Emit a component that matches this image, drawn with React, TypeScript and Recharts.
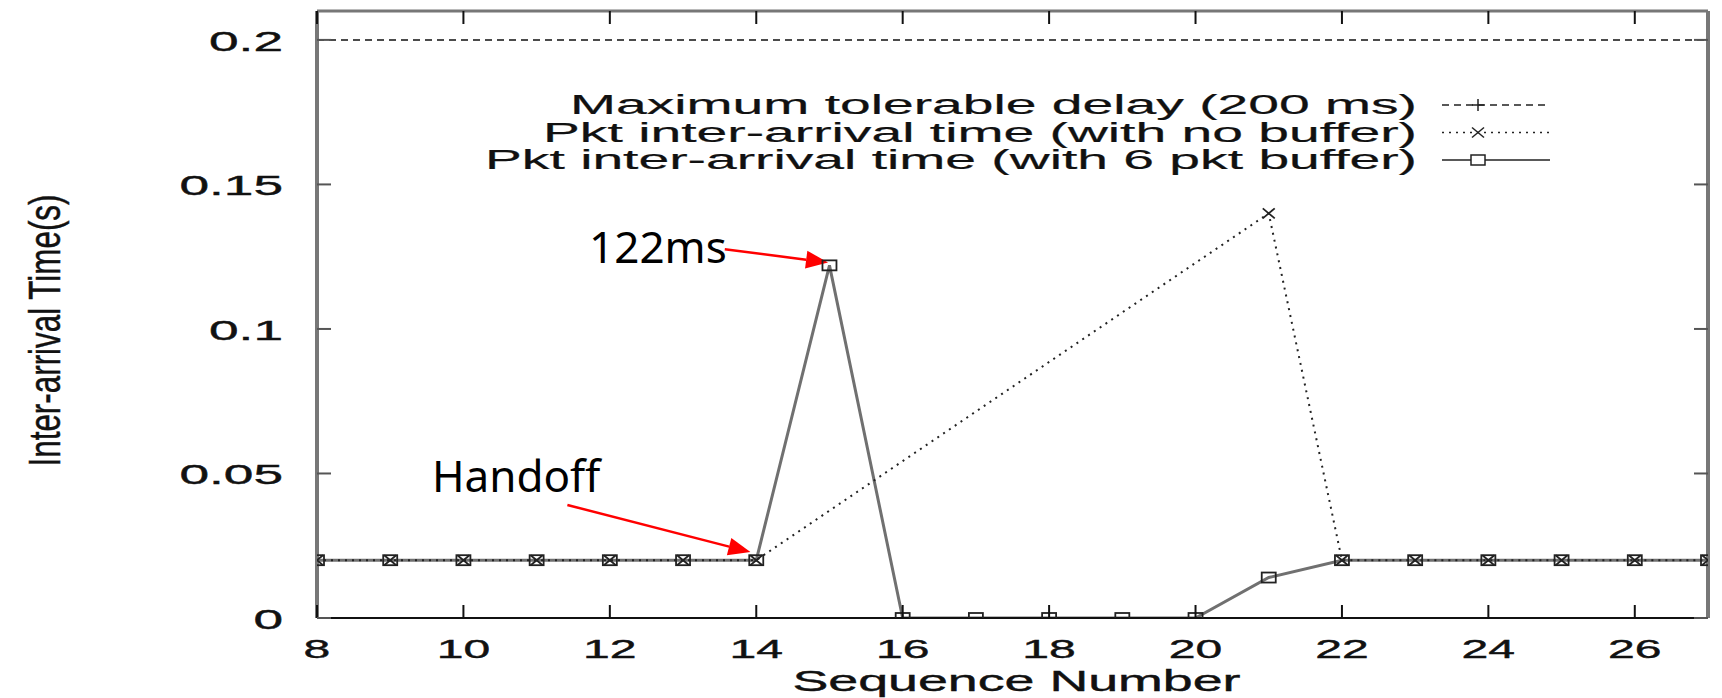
import React from 'react';
import { LineChart, Line, XAxis, YAxis, ReferenceLine, Legend } from 'recharts';

// sequence numbers on the x axis
const seqNumbers = [8, 9, 10, 11, 12, 13, 14, 15, 16, 17, 18, 19, 20, 21, 22, 23, 24, 25, 26, 27];
// maximum tolerable delay (200 ms)
const maxDelay = [0.2, 0.2, 0.2, 0.2, 0.2, 0.2, 0.2, 0.2, 0.2, 0.2, 0.2, 0.2, 0.2, 0.2, 0.2, 0.2, 0.2, 0.2, 0.2, 0.2];
// inter-arrival time with no buffer (packets 15..20 missing)
const noBuffer = [0.02, 0.02, 0.02, 0.02, 0.02, 0.02, 0.02, null, null, null, null, null, null, 0.14, 0.02, 0.02, 0.02, 0.02, 0.02, 0.02];
// inter-arrival time with 6 pkt buffer
const sixPktBuffer = [0.02, 0.02, 0.02, 0.02, 0.02, 0.02, 0.02, 0.122, 0, 0, 0, 0, 0, 0.014, 0.02, 0.02, 0.02, 0.02, 0.02, 0.02];

const xTicks = [8, 10, 12, 14, 16, 18, 20, 22, 24, 26];
const yTicks = [0, 0.05, 0.1, 0.15, 0.2];
const yTickLabels = ['0', '0.05', '0.1', '0.15', '0.2'];

const seriesNames = [
  'Maximum tolerable delay (200 ms)',
  'Pkt inter-arrival time (with no buffer)',
  'Pkt inter-arrival time (with 6 pkt buffer)',
];

// annotation arrows, in data units: [start, tip]
const peakArrow = [{ x: 13.57, y: 0.1276 }, { x: 14.98, y: 0.123 }];
const handoffArrow = [{ x: 11.42, y: 0.0391 }, { x: 13.92, y: 0.0228 }];

const rows = seqNumbers.map((seq, i) => ({
  seq,
  maxDelay: maxDelay[i],
  noBuffer: noBuffer[i],
  sixPktBuffer: sixPktBuffer[i],
}));

const FONT = '"Liberation Sans", Arial, sans-serif';

// the source figure is stretched sideways, so text is stretched with textLength
const GLYPH: Record<string, number> = { '.': 0.278 };
const stretched = (s: string, size: number, k: number) =>
  s.split('').reduce((acc, ch) => acc + (GLYPH[ch] ?? 0.556), 0) * size * k;

const BottomTick = (props: any) => {
  const { x, y, payload } = props;
  const label = String(payload.value);
  return (
    <g>
      <line x1={x} y1={y} x2={x} y2={y - 13} stroke="#111" strokeWidth={2} />
      <text x={x} y={y + 40} textAnchor="middle" fontSize={26} fontFamily={FONT} fill="#111"
        stroke="#111" strokeWidth={0.4}
        textLength={stretched(label, 26, 1.85)} lengthAdjust="spacingAndGlyphs">
        {label}
      </text>
    </g>
  );
};

const TopTick = (props: any) => {
  const { x, y } = props;
  return <line x1={x} y1={y} x2={x} y2={y + 13} stroke="#111" strokeWidth={2} />;
};

const LeftTick = (props: any) => {
  const { x, y, payload } = props;
  const idx = yTicks.indexOf(payload.value);
  const label = yTickLabels[idx] ?? String(payload.value);
  return (
    <g>
      <line x1={x} y1={y} x2={x + 14} y2={y} stroke="#555" strokeWidth={2} />
      <text x={x - 34} y={y + 11} textAnchor="end" fontSize={28} fontFamily={FONT} fill="#111"
        stroke="#111" strokeWidth={0.4}
        textLength={stretched(label, 28, 1.9)} lengthAdjust="spacingAndGlyphs">
        {label}
      </text>
    </g>
  );
};

const RightTick = (props: any) => {
  const { x, y } = props;
  return <line x1={x} y1={y} x2={x - 14} y2={y} stroke="#555" strokeWidth={2} />;
};

const SquareDot = (props: any) => {
  const { cx, cy, value, index } = props;
  if (value == null || cy == null) return <g key={index} />;
  return <rect key={index} x={cx - 7} y={cy - 5} width={14} height={10} fill="none" stroke="#222" strokeWidth={1.8} />;
};

const CrossDot = (props: any) => {
  const { cx, cy, value, index } = props;
  if (value == null || cy == null) return <g key={index} />;
  return (
    <g key={index} stroke="#222" strokeWidth={1.8}>
      <line x1={cx - 6} y1={cy - 5} x2={cx + 6} y2={cy + 5} />
      <line x1={cx - 6} y1={cy + 5} x2={cx + 6} y2={cy - 5} />
    </g>
  );
};

const arrowShape = (text: string, dx: number, dy: number) => (p: any) => {
  const { x1, y1, x2, y2 } = p;
  const ang = Math.atan2(y2 - y1, x2 - x1);
  const len = 22;
  const half = 9;
  const bx = x2 - len * Math.cos(ang);
  const by = y2 - len * Math.sin(ang);
  const pts = `${x2},${y2} ${bx - half * Math.sin(ang)},${by + half * Math.cos(ang)} ${bx + half * Math.sin(ang)},${by - half * Math.cos(ang)}`;
  return (
    <g>
      <line x1={x1} y1={y1} x2={bx} y2={by} stroke="#ff0000" strokeWidth={2.5} />
      <polygon points={pts} fill="#ff0000" />
      <text x={x1 + dx} y={y1 + dy} textAnchor="end" fontSize={44} fontFamily='"Noto Sans", sans-serif' fill="#000">
        {text}
      </text>
    </g>
  );
};

const legendRows = [
  { dash: '7 5', marker: 'plus', width: 847 },
  { dash: '2 5', marker: 'cross', width: 874 },
  { dash: undefined, marker: 'square', width: 932 },
];

const renderLegend = () => (
  <svg width={1120} height={110} style={{ overflow: 'visible' }}>
    {seriesNames.map((name, i) => {
      const row = legendRows[i];
      const cy = 25 + i * 27.5;
      const mx = 1028;
      return (
        <g key={name}>
          <text x={967} y={cy + 9} textAnchor="end" fontSize={27} fontFamily={FONT} fill="#111"
            stroke="#111" strokeWidth={0.2}
            textLength={row.width} lengthAdjust="spacingAndGlyphs">
            {name}
          </text>
          <line x1={992} y1={cy} x2={1100} y2={cy} stroke="#222" strokeWidth={1.5} strokeDasharray={row.dash} />
          {row.marker === 'plus' && (
            <g stroke="#222" strokeWidth={1.5}>
              <line x1={mx - 6} y1={cy} x2={mx + 6} y2={cy} />
              <line x1={mx} y1={cy - 6} x2={mx} y2={cy + 6} />
            </g>
          )}
          {row.marker === 'cross' && (
            <g stroke="#222" strokeWidth={1.5}>
              <line x1={mx - 6} y1={cy - 5} x2={mx + 6} y2={cy + 5} />
              <line x1={mx - 6} y1={cy + 5} x2={mx + 6} y2={cy - 5} />
            </g>
          )}
          {row.marker === 'square' && (
            <rect x={mx - 7} y={cy - 5} width={14} height={10} fill="#fff" stroke="#222" strokeWidth={1.5} />
          )}
        </g>
      );
    })}
  </svg>
);

export default function App() {
  return (
    <div style={{ position: 'absolute', left: 0, top: 0, width: 1722, height: 698, background: '#fff', fontFamily: FONT }}>
      <LineChart width={1722} height={698} data={rows} margin={{ top: 10, right: 13, bottom: 0, left: 0 }}>
        <XAxis
          dataKey="seq"
          type="number"
          domain={[8, 27]}
          allowDataOverflow
          ticks={xTicks}
          interval={0}
          height={80}
          tickSize={0}
          tickMargin={0}
          tickLine={false}
          tick={BottomTick}
          axisLine={{ stroke: '#111', strokeWidth: 2 }}
          label={{
            value: 'Sequence Number',
            content: (p: any) => (
              <text x={p.viewBox.x + p.viewBox.width / 2 + 4} y={p.viewBox.y + 73} textAnchor="middle"
                fontSize={30} fontFamily={FONT} fill="#111" stroke="#111" strokeWidth={0.4}
                textLength={448} lengthAdjust="spacingAndGlyphs">
                Sequence Number
              </text>
            ),
          }}
        />
        <XAxis
          xAxisId="top"
          orientation="top"
          dataKey="seq"
          type="number"
          domain={[8, 27]}
          allowDataOverflow
          ticks={xTicks}
          interval={0}
          height={1}
          tickSize={0}
          tickMargin={0}
          tickLine={false}
          tick={TopTick}
          axisLine={{ stroke: '#777', strokeWidth: 3 }}
        />
        <YAxis
          type="number"
          domain={[0, 0.21]}
          allowDataOverflow
          ticks={yTicks}
          interval={0}
          width={317}
          tickSize={0}
          tickMargin={0}
          tickLine={false}
          tick={LeftTick}
          axisLine={{ stroke: '#777', strokeWidth: 4 }}
          label={{
            value: 'Inter-arrival Time(s)',
            content: (p: any) => {
              const x = p.viewBox.x + 60;
              const y = p.viewBox.y + p.viewBox.height / 2 + 16;
              return (
                <text x={x} y={y} transform={`rotate(-90, ${x}, ${y})`} textAnchor="middle" fontSize={44}
                  fontFamily={FONT} fill="#111" stroke="#111" strokeWidth={0.5}
                  textLength={272} lengthAdjust="spacingAndGlyphs">
                  Inter-arrival Time(s)
                </text>
              );
            },
          }}
        />
        <YAxis
          yAxisId="right"
          orientation="right"
          type="number"
          domain={[0, 0.21]}
          allowDataOverflow
          ticks={yTicks}
          interval={0}
          width={1}
          tickSize={0}
          tickMargin={0}
          tickLine={false}
          tick={RightTick}
          axisLine={{ stroke: '#777', strokeWidth: 4 }}
        />
        <Legend layout="vertical" align="center" verticalAlign="middle" content={renderLegend}
          wrapperStyle={{ left: 450, top: 80, width: 1120, height: 110 }} />
        <Line
          xAxisId="top"
          yAxisId="right"
          dataKey="maxDelay"
          name={seriesNames[0]}
          stroke="#111"
          strokeWidth={1.5}
          strokeDasharray="7 5"
          dot={false}
          isAnimationActive={false}
        />
        <Line
          dataKey="sixPktBuffer"
          name={seriesNames[2]}
          stroke="#707070"
          strokeWidth={3}
          dot={SquareDot}
          activeDot={false}
          isAnimationActive={false}
        />
        <Line
          dataKey="noBuffer"
          name={seriesNames[1]}
          stroke="#222"
          strokeWidth={2}
          strokeDasharray="2 5"
          connectNulls
          dot={CrossDot}
          activeDot={false}
          isAnimationActive={false}
        />
        <ReferenceLine segment={peakArrow} shape={arrowShape('122ms', 2, 14)} ifOverflow="visible" />
        <ReferenceLine segment={handoffArrow} shape={arrowShape('Handoff', 33, -13)} ifOverflow="visible" />
      </LineChart>
    </div>
  );
}
